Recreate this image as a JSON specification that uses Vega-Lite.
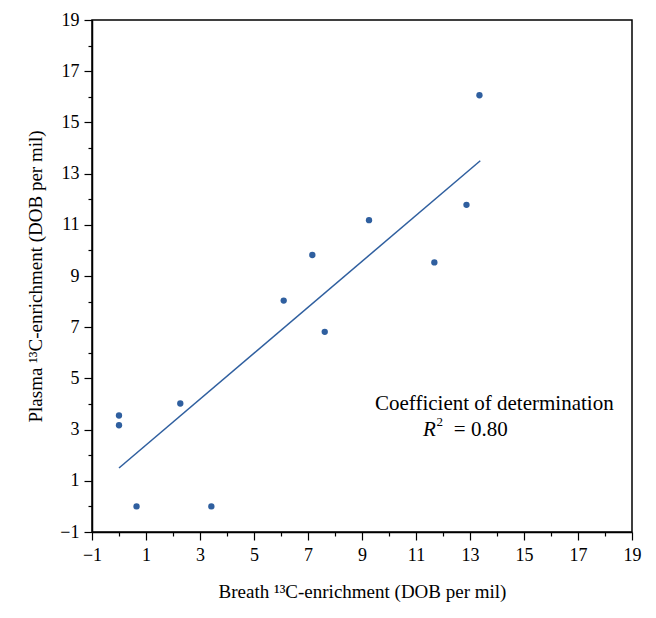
{
  "$schema": "https://vega.github.io/schema/vega-lite/v6.json",
  "width": 540,
  "height": 512,
  "autosize": "none",
  "padding": {"left": 92, "top": 20, "right": 24, "bottom": 86},
  "background": "white",
  "config": {
    "view": {"stroke": "black", "strokeWidth": 1.5},
    "font": "Liberation Serif",
    "axis": {
      "grid": false,
      "domainColor": "black",
      "domainWidth": 1.5,
      "tickColor": "black",
      "tickWidth": 1.2,
      "labelColor": "black",
      "titleColor": "black",
      "labelFont": "Liberation Serif",
      "titleFont": "Liberation Serif",
      "labelFontSize": 18,
      "titleFontSize": 19,
      "titleFontWeight": "normal",
      "labelOverlap": false,
      "labelFlush": false,
      "labelBound": false
    }
  },
  "datasets": {
    "pts": [
      {"breath": 0.0, "plasma": 3.55},
      {"breath": 0.0, "plasma": 3.17},
      {"breath": 0.65, "plasma": 0.0},
      {"breath": 2.27, "plasma": 4.02},
      {"breath": 3.42, "plasma": 0.0},
      {"breath": 6.1, "plasma": 8.04},
      {"breath": 7.16, "plasma": 9.82},
      {"breath": 7.62, "plasma": 6.82},
      {"breath": 9.26, "plasma": 11.18},
      {"breath": 11.68, "plasma": 9.53},
      {"breath": 12.87, "plasma": 11.78},
      {"breath": 13.35, "plasma": 16.06}
    ],
    "fit": [
      {"breath": 0.0, "plasma": 1.5},
      {"breath": 13.38, "plasma": 13.5}
    ],
    "notes": [
      {"breath": 13.9, "plasma": 4.0, "label": "Coefficient of determination"}
    ],
    "r2": [
      {"breath": 11.26, "plasma": 3.0, "label": "R"}
    ],
    "r2b": [
      {"breath": 11.76, "plasma": 3.3, "label": "2"}
    ],
    "r2c": [
      {"breath": 12.4, "plasma": 3.0, "label": "= 0.80"}
    ]
  },
  "layer": [
    {
      "data": {"name": "pts"},
      "mark": {"type": "point", "filled": true, "color": "#2f5f9f", "size": 40, "opacity": 1},
      "encoding": {
        "x": {
          "field": "breath", "type": "quantitative",
          "scale": {"domain": [-1, 19], "nice": false, "zero": false},
          "axis": {
            "orient": "bottom",
            "values": [-1, -0.5, 0, 0.5, 1, 1.5, 2, 2.5, 3, 3.5, 4, 4.5, 5, 5.5, 6, 6.5, 7, 7.5, 8, 8.5, 9, 9.5, 10, 10.5, 11, 11.5, 12, 12.5, 13, 13.5, 14, 14.5, 15, 15.5, 16, 16.5, 17, 17.5, 18, 18.5, 19],
            "tickCount": 200,
            "format": "d",
            "labelExpr": "abs(datum.value % 2) == 1 ? datum.label : ''",
            "tickSize": {"condition": {"test": "abs(datum.value % 2) == 1", "value": 8}, "value": 4},
            "labelPadding": 6,
            "title": "Breath \u00b9\u00b3C-enrichment (DOB per mil)",
            "titlePadding": 18
          }
        },
        "y": {
          "field": "plasma", "type": "quantitative",
          "scale": {"domain": [-1, 19], "nice": false, "zero": false},
          "axis": {
            "orient": "left",
            "values": [-1, -0.5, 0, 0.5, 1, 1.5, 2, 2.5, 3, 3.5, 4, 4.5, 5, 5.5, 6, 6.5, 7, 7.5, 8, 8.5, 9, 9.5, 10, 10.5, 11, 11.5, 12, 12.5, 13, 13.5, 14, 14.5, 15, 15.5, 16, 16.5, 17, 17.5, 18, 18.5, 19],
            "tickCount": 200,
            "format": "d",
            "labelExpr": "abs(datum.value % 2) == 1 ? datum.label : ''",
            "tickSize": {"condition": {"test": "abs(datum.value % 2) == 1", "value": 8}, "value": 4},
            "labelPadding": 5,
            "title": "Plasma \u00b9\u00b3C-enrichment (DOB per mil)",
            "titlePadding": 14
          }
        }
      }
    },
    {
      "data": {"name": "fit"},
      "mark": {"type": "line", "color": "#2f5f9f", "strokeWidth": 1.5},
      "encoding": {
        "x": {"field": "breath", "type": "quantitative"},
        "y": {"field": "plasma", "type": "quantitative"}
      }
    },
    {
      "data": {"name": "notes"},
      "mark": {"type": "text", "fontSize": 21, "font": "Liberation Serif", "color": "black", "align": "center", "baseline": "middle"},
      "encoding": {
        "x": {"field": "breath", "type": "quantitative"},
        "y": {"field": "plasma", "type": "quantitative"},
        "text": {"field": "label"}
      }
    },
    {
      "data": {"name": "r2"},
      "mark": {"type": "text", "fontSize": 21, "font": "Liberation Serif", "fontStyle": "italic", "color": "black", "align": "left", "baseline": "middle"},
      "encoding": {
        "x": {"field": "breath", "type": "quantitative"},
        "y": {"field": "plasma", "type": "quantitative"},
        "text": {"field": "label"}
      }
    },
    {
      "data": {"name": "r2b"},
      "mark": {"type": "text", "fontSize": 13, "font": "Liberation Serif", "color": "black", "align": "left", "baseline": "middle"},
      "encoding": {
        "x": {"field": "breath", "type": "quantitative"},
        "y": {"field": "plasma", "type": "quantitative"},
        "text": {"field": "label"}
      }
    },
    {
      "data": {"name": "r2c"},
      "mark": {"type": "text", "fontSize": 21, "font": "Liberation Serif", "color": "black", "align": "left", "baseline": "middle"},
      "encoding": {
        "x": {"field": "breath", "type": "quantitative"},
        "y": {"field": "plasma", "type": "quantitative"},
        "text": {"field": "label"}
      }
    }
  ]
}
